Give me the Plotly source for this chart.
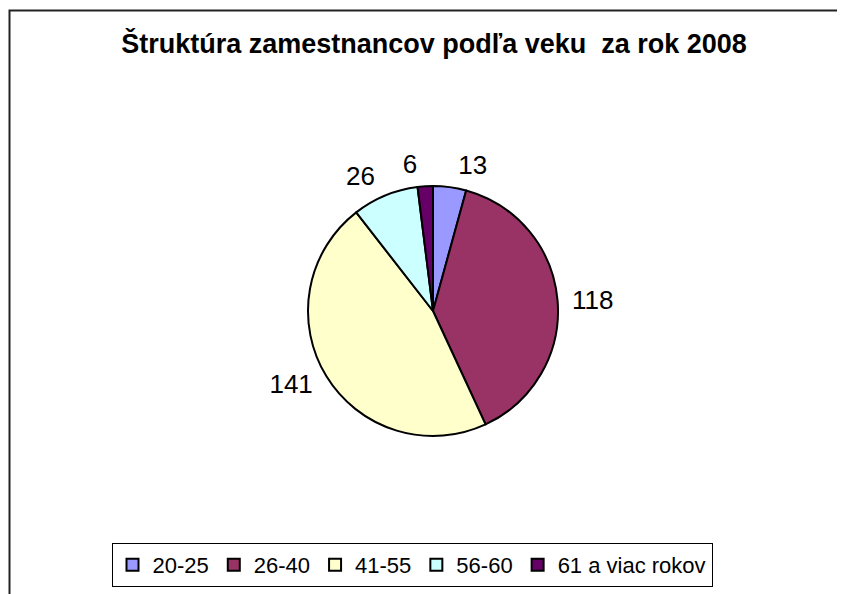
import plotly.graph_objects as go

kategorie = ['20-25', '26-40', '41-55', '56-60', '61 a viac rokov']
pocty = [13, 118, 141, 26, 6]
farby = ['#9999FF', '#993366', '#FFFFCC', '#CCFFFF', '#660066']

W, H = 845, 594
# stranka ma 8px okraj, preto su pozicie posunute
CX, CY, R = 425, 303, 125
R_TXT = 132

font = 'Liberation Sans, Arial'
priehladne = ['rgba(0,0,0,0)'] * len(kategorie)


def domena(r):
    return dict(x=[(CX - r) / W, (CX + r) / W], y=[1 - (CY + r) / H, 1 - (CY - r) / H])


fig = go.Figure()

# popisky hodnot - dve skupiny, aby sa "6" neposuvala
for pozicie in (['outside', 'outside', 'outside', 'outside', 'none'],
                ['none', 'none', 'none', 'none', 'outside']):
    fig.add_trace(go.Pie(
        labels=kategorie, values=pocty, sort=False,
        direction='clockwise', rotation=0,
        marker=dict(colors=priehladne, line=dict(width=0)),
        textinfo='value', textposition=pozicie,
        textfont=dict(family=font, size=26, color='black'),
        domain=domena(R_TXT), showlegend=False, hoverinfo='skip'
    ))

fig.add_trace(go.Pie(
    labels=kategorie, values=pocty, sort=False,
    direction='clockwise', rotation=0,
    marker=dict(colors=farby, line=dict(color='black', width=2)),
    textinfo='none',
    domain=domena(R), showlegend=True
))

fig.update_layout(
    width=W, height=H,
    margin=dict(l=0, r=0, t=0, b=0),
    paper_bgcolor='white',
    title=dict(text='<b>Štruktúra zamestnancov podľa veku  za rok 2008</b>',
               x=426 / W, xanchor='center', y=1 - 36 / H, yanchor='middle',
               font=dict(family=font, size=27, color='black')),
    legend=dict(orientation='h', x=404 / W, y=1 - 535 / H, xanchor='center', yanchor='top',
                bordercolor='black', borderwidth=1, traceorder='normal',
                font=dict(family=font, size=22, color='black')),
    shapes=[dict(type='rect', xref='paper', yref='paper',
                 x0=1.5 / W, x1=1.02, y0=-0.02, y1=1 - 2.5 / H,
                 line=dict(color='#222222', width=2))]
)

fig.write_html("out.html")
